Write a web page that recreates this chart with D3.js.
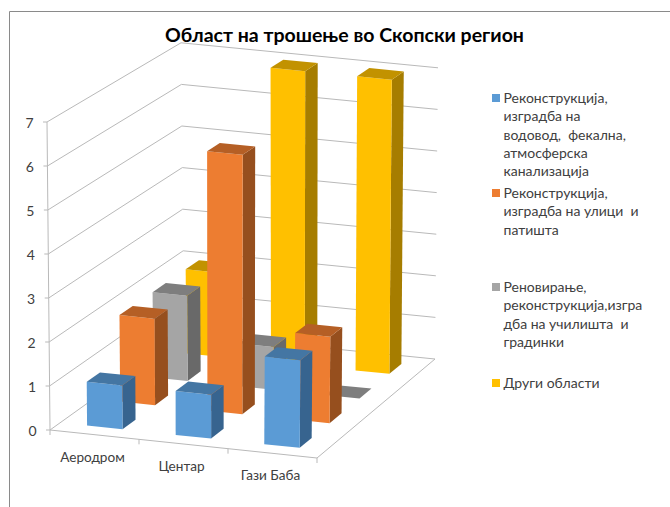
<!DOCTYPE html>
<html>
<head>
<meta charset="utf-8">
<script src="https://cdnjs.cloudflare.com/ajax/libs/d3/7.8.5/d3.min.js"></script>
<style>
  html, body { margin: 0; padding: 0; background: #fff; }
  svg { display: block; font-family: Lato, "Open Sans", sans-serif; }
</style>
</head>
<body>
<div id="chart"></div>
<script>
const title = "Област на трошење во Скопски регион";
const categories = ["Аеродром", "Центар", "Гази Баба"];
const yTicks = [0, 1, 2, 3, 4, 5, 6, 7];

const seriesNames = [
  ["Реконструкција,", "изградба на", "водовод,  фекална,", "атмосферска", "канализација"],
  ["Реконструкција,", "изградба на улици  и", "патишта"],
  ["Реновирање,", "реконструкција,изгра", "дба на училишта  и", "градинки"],
  ["Други области"]
];
const vodovod = [1, 1, 2];
const ulici = [2, 6, 2];
const uchilista = [2, 1, 0];
const drugi = [2, 7, 7];
const seriesValues = [vodovod, ulici, uchilista, drugi];

const frontColors = ["#5b9bd5", "#ed7d31", "#a5a5a5", "#ffc000"];
const topColors = ["#4476a3", "#b55f25", "#7e7e7e", "#c29200"];
const sideColors = ["#37648f", "#964f1e", "#696969", "#a67d00"];

const width = 670;
const height = 507;

const svg = d3.select("#chart")
  .append("svg")
  .attr("width", width)
  .attr("height", height);

// floor corners of the 3d box on the picture
const floorFL = [50, 430];
const floorFR = [317, 458];
const floorBL = [184, 334];
const floorBR = [435, 359];

const uScale = d3.scaleLinear().domain([0, categories.length]).range([0, 1]);
const vScale = d3.scaleLinear().domain([0, seriesNames.length]).range([0, 1]);
const unitHeight = d3.scaleLinear().domain([0, 1]).range([44, 41.6]);
const leanScale = d3.scaleLinear().domain([0, 1]).range([-3 / 7, 3 / 7]);

// category slot, series slot, value -> screen position
function project(u, v, value) {
  const a = uScale(u);
  const b = vScale(v);
  const front = d3.interpolateArray(floorFL, floorFR)(a);
  const back = d3.interpolateArray(floorBL, floorBR)(a);
  const p = d3.interpolateArray(front, back)(b);
  return [p[0] + leanScale(a) * value, p[1] - unitHeight(b) * value];
}

const line = d3.line();
const gridColor = "#b9b9b9";
const maxValue = d3.max(yTicks);
const nCat = categories.length;
const nSer = seriesNames.length;

// outer frame
svg.append("path")
  .attr("d", `M9.5,${height}V11.5H${width}`)
  .attr("fill", "none")
  .attr("stroke", "#8a8a8a");

svg.append("text")
  .attr("x", 344.5)
  .attr("y", 42)
  .attr("text-anchor", "middle")
  .style("font-size", "19.5px")
  .style("font-weight", "bold")
  .attr("fill", "#000")
  .text(title);

// walls
const grid = svg.append("g").attr("fill", "none").attr("stroke", gridColor);
yTicks.forEach(t => {
  grid.append("path").attr("d", line([
    project(0, 0, t), project(0, nSer, t), project(nCat, nSer, t)
  ]));
});
grid.append("path").attr("d", line([project(0, 0, 0), project(0, 0, maxValue)]));

// floor and axis ticks
grid.append("path").attr("d", line([
  project(0, 0, 0), project(nCat, 0, 0), project(nCat, nSer, 0)
]));
d3.range(nCat + 1).forEach(i => {
  const p = project(i, 0, 0);
  grid.append("path").attr("d", line([p, [p[0], p[1] + 5]]));
});
yTicks.forEach(t => {
  const p = project(0, 0, t);
  grid.append("path").attr("d", line([p, [p[0] - 4, p[1]]]));
});

const yLabels = svg.append("g")
  .style("font-size", "14px")
  .attr("fill", "#404040");
yTicks.forEach(t => {
  const p = project(0, 0, t);
  yLabels.append("text")
    .attr("x", p[0] - 13.5)
    .attr("y", p[1] + 5.5)
    .attr("text-anchor", "end")
    .text(t);
});
categories.forEach((c, i) => {
  const p = project(i + 0.5, 0, 0);
  yLabels.append("text")
    .attr("x", p[0] - 2)
    .attr("y", p[1] + 27)
    .attr("text-anchor", "middle")
    .style("font-size", "13.6px")
    .text(c);
});

// bars, back row first so nearer ones cover them
const barInsetU = 0.305;
const barWidthU = 0.4;
const barInsetV = 0.3;
const barDepthV = 0.4;

const bars = [];
seriesValues.forEach((values, s) => {
  values.forEach((value, c) => bars.push({ s, c, value }));
});
bars.sort((a, b) => d3.descending(a.s, b.s) || d3.ascending(a.c, b.c));

const barGroup = svg.append("g");
bars.forEach(d => {
  const u0 = d.c + barInsetU;
  const u1 = u0 + barWidthU;
  const v0 = d.s + barInsetV;
  const v1 = v0 + barDepthV;
  const g = barGroup.append("g");
  if (d.value > 0) {
    g.append("path")
      .attr("d", line([project(u1, v0, 0), project(u1, v1, 0), project(u1, v1, d.value), project(u1, v0, d.value)]) + "Z")
      .attr("fill", sideColors[d.s]);
    g.append("path")
      .attr("d", line([project(u0, v0, 0), project(u1, v0, 0), project(u1, v0, d.value), project(u0, v0, d.value)]) + "Z")
      .attr("fill", frontColors[d.s]);
  }
  g.append("path")
    .attr("d", line([project(u0, v0, d.value), project(u1, v0, d.value), project(u1, v1, d.value), project(u0, v1, d.value)]) + "Z")
    .attr("fill", topColors[d.s]);
});

// legend
const legendTop = [98, 193, 287, 383];
const legendLine = 18.3;
const legend = svg.append("g")
  .style("font-size", "14px")
  .attr("fill", "#404040");
seriesNames.forEach((lines, s) => {
  legend.append("rect")
    .attr("x", 492)
    .attr("y", legendTop[s] - 4)
    .attr("width", 8)
    .attr("height", 8)
    .attr("fill", frontColors[s]);
  lines.forEach((l, i) => {
    legend.append("text")
      .attr("x", 503.5)
      .attr("y", legendTop[s] + 5 + i * legendLine)
      .style("white-space", "pre")
      .text(l);
  });
});
</script>
</body>
</html>
